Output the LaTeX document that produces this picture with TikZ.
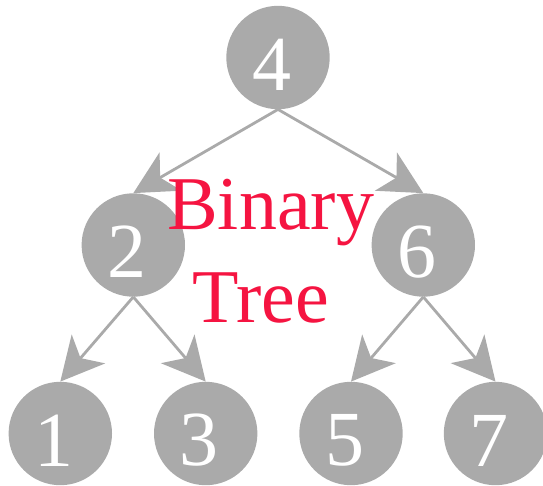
\documentclass[tikz,border=0pt]{standalone}
\usepackage{fontspec}
\setmainfont{Liberation Serif}
\usetikzlibrary{arrows.meta}
\definecolor{nodegray}{RGB}{170,170,170}
\definecolor{titlered}{RGB}{245,20,65}
\tikzset{
  circ/.style={circle, fill=nodegray, draw=none, minimum size=103.4pt, inner sep=0pt},
  num/.style={text=white, inner sep=0pt, font=\fontsize{78}{78}\selectfont},
  edge/.style={draw=nodegray, line width=2.8pt, -{Stealth[length=43pt, width=44pt, inset=12pt]}},
  title/.style={text=titlered, inner sep=0pt, anchor=base west, font=\fontsize{76}{76}\selectfont}
}
\begin{document}
\begin{tikzpicture}[x=1pt,y=-1pt]
\useasboundingbox (0,0) rectangle (543,485);
\node[circ] (n4) at (278,57.5) {};
\node[circ] (n2) at (133.3,245) {};
\node[circ] (n6) at (423.3,245) {};
\node[circ] (n1) at (60.3,433.5) {};
\node[circ] (n3) at (205.7,433.5) {};
\node[circ] (n5) at (351,433.5) {};
\node[circ] (n7) at (495.5,433.5) {};
\foreach \n in {4,2,6,1,3,5,7}{
  \node[num] (t\n) at ([xshift=-6.5pt,yshift=-7pt]n\n.center) {\n};
}
\draw[edge] (n4.south) -- (n2.north);
\draw[edge] (n4.south) -- (n6.north);
\draw[edge] (n2.south) -- (n1.north);
\draw[edge] (n2.south) -- (n3.north);
\draw[edge] (n6.south) -- (n5.north);
\draw[edge] (n6.south) -- (n7.north);
\node[title] (bin) at (167,229) {Binary};
\node[title] (tree) at (192.5,322) {Tree};
\end{tikzpicture}
\end{document}
